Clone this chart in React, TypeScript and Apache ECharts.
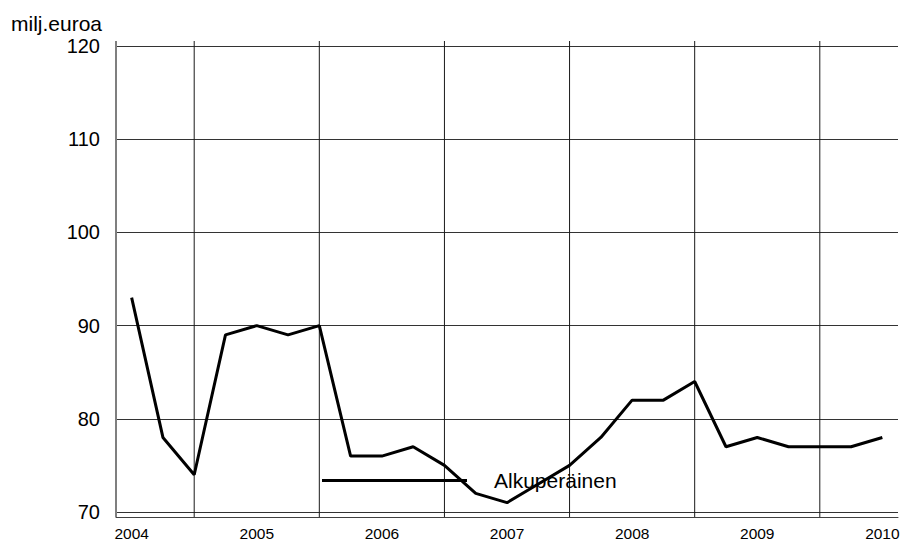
import React, { useEffect, useRef } from "react";
import * as echarts from "echarts";

const quarters: string[] = [
  "2004Q1", "2004Q2", "2004Q3", "2004Q4",
  "2005Q1", "2005Q2", "2005Q3", "2005Q4",
  "2006Q1", "2006Q2", "2006Q3", "2006Q4",
  "2007Q1", "2007Q2", "2007Q3", "2007Q4",
  "2008Q1", "2008Q2", "2008Q3", "2008Q4",
  "2009Q1", "2009Q2", "2009Q3", "2009Q4",
  "2010Q1",
];

const alkuperainen: number[] = [
  93, 78, 74, 89,
  90, 89, 90, 76,
  76, 77, 75, 72,
  71, 73, 75, 78,
  82, 82, 84, 77,
  78, 77, 77, 77,
  78,
];

const dividers: string[] = ["2004Q3", "2005Q3", "2006Q3", "2007Q3", "2008Q3", "2009Q3"];

const seriesName = "Alkuperäinen";
const unitLabel = "milj.euroa";
const yMin = 70;
const yMax = 120;
const yStep = 10;

const FONT = "'Liberation Sans', Arial, Helvetica, sans-serif";

export default function App() {
  const ref = useRef<HTMLDivElement>(null);

  useEffect(() => {
    if (!ref.current) return;
    const chart = echarts.init(ref.current, undefined, { renderer: "svg" });
    const option: any = {
      animation: false,
      backgroundColor: "#ffffff",
      textStyle: { fontFamily: FONT },
      graphic: [
        {
          type: "text",
          left: 11,
          top: 13,
          style: {
            text: unitLabel,
            font: "normal 21px " + FONT,
            fill: "#000",
          },
        },
      ],
      legend: {
        data: [{ name: seriesName, icon: "rect" }],
        left: 322,
        top: 470,
        padding: 0,
        itemWidth: 145,
        itemHeight: 3,
        itemStyle: { color: "#000" },
        textStyle: { fontFamily: FONT, fontSize: 21, color: "#000", padding: [0, 0, 0, 22] },
      },
      grid: { left: 116, right: 6, top: 46, bottom: 30, containLabel: false },
      xAxis: {
        type: "category",
        data: quarters,
        boundaryGap: true,
        offset: 5,
        axisLine: { show: true, lineStyle: { color: "#404040", width: 1 } },
        axisTick: { show: false },
        splitLine: { show: false },
        axisLabel: {
          interval: (i: number) => i % 4 === 0,
          formatter: (v: string) => v.slice(0, 4),
          fontFamily: FONT,
          fontSize: 15.5,
          color: "#000",
          margin: 8,
        },
      },
      yAxis: {
        type: "value",
        min: yMin,
        max: yMax,
        interval: yStep,
        axisLine: { show: false },
        axisTick: { show: false },
        axisLabel: { fontFamily: FONT, fontSize: 20, color: "#000", margin: 16 },
        splitLine: { show: true, lineStyle: { color: "#333", width: 1 } },
      },
      series: [
        {
          type: "custom",
          silent: true,
          z: 1,
          clip: false,
          data: dividers.map((d) => [d, yMax]),
          encode: { x: 0, y: 1 },
          renderItem: (params: any, api: any) => {
            const cs = params.coordSys;
            const p = api.coord([api.value(0), yMax]);
            const children: any[] = [
              {
                type: "line",
                shape: { x1: p[0], y1: cs.y - 5, x2: p[0], y2: cs.y + cs.height + 5 },
                style: { stroke: "#1a1a1a", lineWidth: 1 },
              },
            ];
            if (params.dataIndex === 0) {
              children.push({
                type: "line",
                shape: { x1: cs.x, y1: cs.y - 5, x2: cs.x, y2: cs.y + cs.height + 5 },
                style: { stroke: "#7f7f7f", lineWidth: 2 },
              });
            }
            return { type: "group", children };
          },
        },
        {
          name: seriesName,
          type: "line",
          data: alkuperainen,
          symbol: "none",
          z: 3,
          lineStyle: { color: "#000", width: 3 },
          itemStyle: { color: "#000" },
        },
      ],
    };
    chart.setOption(option);
    return () => chart.dispose();
  }, []);

  return (
    <div
      ref={ref}
      style={{ position: "fixed", left: 0, top: 0, width: 904, height: 542 }}
    />
  );
}
